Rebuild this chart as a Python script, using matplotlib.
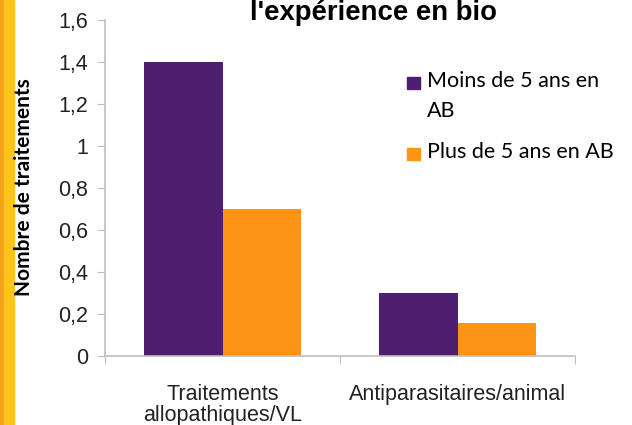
import numpy as np
import matplotlib
matplotlib.use("Agg")
import matplotlib.pyplot as plt
from matplotlib.patches import Rectangle

# data
categories = ["Traitements\nallopathiques/VL", "Antiparasitaires/animal"]
moins_5 = [1.4, 0.3]
plus_5 = [0.7, 0.155]
series_labels = ["Moins de 5 ans en\nAB", "Plus de 5 ans en AB"]
yticks = [0, 0.2, 0.4, 0.6, 0.8, 1.0, 1.2, 1.4, 1.6]
ytick_labels = ["0", "0,2", "0,4", "0,6", "0,8", "1", "1,2", "1,4", "1,6"]

purple = "#4D1F6E"
orange = "#FD9415"
grey = "#BFBFBF"

plt.rcParams["font.family"] = ["Liberation Sans", "DejaVu Sans"]

fig = plt.figure(figsize=(6.32, 4.25), dpi=100)
ax = fig.add_axes([105 / 632, 1 - 356 / 425, 470 / 632, 336 / 425])

# orange / yellow strip on the left edge
fig.patches.append(Rectangle((0, 0), 4 / 632, 1, transform=fig.transFigure,
                             color="#F6A01C", zorder=0))
fig.patches.append(Rectangle((4 / 632, 0), 10 / 632, 1, transform=fig.transFigure,
                             color="#FFC518", zorder=0))

x = np.arange(len(categories))
w = 0.332
b1 = ax.bar(x - w / 2, moins_5, w, color=purple, label=series_labels[0])
b2 = ax.bar(x + w / 2, plus_5, w, color=orange, label=series_labels[1])

ax.set_xlim(-0.5, len(categories) - 0.5)
ax.set_ylim(0, 1.6)
ax.set_yticks(yticks)
ax.set_yticklabels(ytick_labels, fontsize=15.5, color="#222222")

# category boundaries get the tick marks, centres get the labels
ax.set_xticks(np.arange(len(categories) + 1) - 0.5)
ax.set_xticklabels([])
ax.set_xticks(x, minor=True)
ax.set_xticklabels(categories, minor=True, fontsize=15.5, color="#222222",
                   linespacing=1.0)
ax.tick_params(axis="x", which="minor", length=0, pad=20)
ax.tick_params(axis="x", which="major", length=6, color=grey, direction="out")
ax.tick_params(axis="y", length=6, color=grey, pad=6)

for s in ["top", "right"]:
    ax.spines[s].set_visible(False)
for s in ["left", "bottom"]:
    ax.spines[s].set_color(grey)
    ax.spines[s].set_linewidth(1.2)

fig.text(24 / 632, 1 - 187 / 425, "Nombre de traitements", rotation=90,
         ha="center", va="center", fontsize=15, fontweight="bold",
         family=["Lato", "DejaVu Sans"])

fig.text(373 / 632, 1 - 20 / 425, "l'expérience en bio", ha="center",
         va="baseline", fontsize=19.8, fontweight="bold")

# legend drawn by hand: the square sits on the first line of each label
leg_font = {"family": ["Lato", "DejaVu Sans"], "size": 15.5}
leg_rows = [(b1, 77), (b2, 148)]  # (bars, top pixel of the square)
for (bars, top), label in zip(leg_rows, series_labels):
    fig.patches.append(Rectangle((407 / 632, 1 - (top + 12) / 425), 13 / 632,
                                 12 / 425, transform=fig.transFigure,
                                 color=bars.patches[0].get_facecolor()))
    fig.text(427 / 632, 1 - (top - 6) / 425, label, ha="left", va="top",
             linespacing=1.65, **leg_font)

fig.savefig("out.png", dpi=100)
